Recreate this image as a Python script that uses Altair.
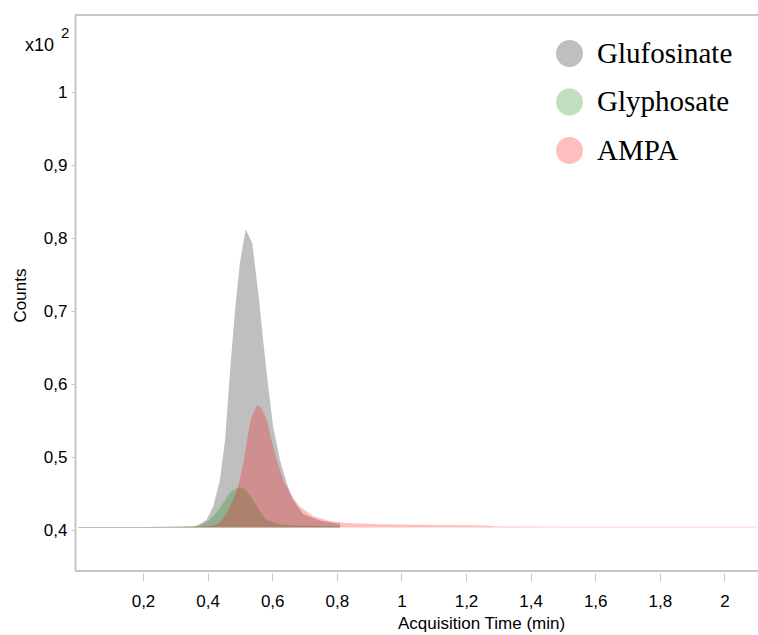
import altair as alt
import pandas as pd

# Chromatogram traces (acquisition time in min, counts in units of 10^2)
glufosinate_t = [0.00, 0.10, 0.20, 0.30, 0.361, 0.376, 0.397, 0.417, 0.438, 0.454, 0.469,
                 0.485, 0.500, 0.518, 0.538, 0.557, 0.572, 0.588, 0.603, 0.624, 0.645,
                 0.665, 0.696, 0.748, 0.800, 0.810]
glufosinate_v = [0.4042, 0.4042, 0.4042, 0.4045, 0.405, 0.408, 0.414, 0.432, 0.468, 0.523, 0.615,
                 0.701, 0.766, 0.812, 0.793, 0.725, 0.660, 0.596, 0.541, 0.496, 0.464,
                 0.441, 0.422, 0.413, 0.409, 0.409]

glyphosate_t = [0.00, 0.10, 0.20, 0.30, 0.361, 0.376, 0.397, 0.417, 0.438, 0.454, 0.469,
                0.485, 0.500, 0.515, 0.531, 0.546, 0.562, 0.577, 0.593, 0.624, 0.670, 0.810]
glyphosate_v = [0.4042, 0.4042, 0.4042, 0.4045, 0.405, 0.407, 0.4105, 0.419, 0.430, 0.441, 0.451,
                0.456, 0.459, 0.456, 0.448, 0.437, 0.426, 0.416, 0.412, 0.4075, 0.406, 0.405]

ampa_t = [0.00, 0.20, 0.38, 0.42, 0.44, 0.46, 0.48, 0.495, 0.511, 0.526, 0.536, 0.554,
          0.567, 0.583, 0.598, 0.614, 0.634, 0.655, 0.686, 0.727, 0.779, 0.831, 0.934,
          1.00, 1.10, 1.20, 1.26, 1.30, 1.50, 1.80, 2.10]
ampa_v = [0.4042, 0.4042, 0.4045, 0.406, 0.411, 0.424, 0.442, 0.460, 0.492, 0.533, 0.555, 0.571,
          0.567, 0.551, 0.523, 0.496, 0.468, 0.450, 0.432, 0.419, 0.4125, 0.4095, 0.408,
          0.4075, 0.407, 0.4065, 0.406, 0.4048, 0.4045, 0.4045, 0.4045]

compounds = ["Glufosinate", "Glyphosate", "AMPA"]
colors = ["black", "green", "red"]

x_ticks = [0.2, 0.4, 0.6, 0.8, 1.0, 1.2, 1.4, 1.6, 1.8, 2.0]
y_ticks = [0.4, 0.5, 0.6, 0.7, 0.8, 0.9, 1.0]
baseline = 0.4035

frames = []
for name, ts, vs in [("Glufosinate", glufosinate_t, glufosinate_v),
                     ("Glyphosate", glyphosate_t, glyphosate_v),
                     ("AMPA", ampa_t, ampa_v)]:
    frames.append(pd.DataFrame({"time": ts, "counts": vs, "compound": name}))
df = pd.concat(frames, ignore_index=True)
one_row = pd.DataFrame({"k": [0]})

W, H = 683, 556
FRAME = "#c6c6c6"
SANS = "Liberation Sans"

comma_label = "replace(format(datum.value, '.1~f'), '.', ',')"

color_enc = alt.Color(
    "compound:N",
    scale=alt.Scale(domain=compounds, range=colors),
    legend=alt.Legend(
        title=None, orient="none", legendX=480, legendY=24,
        symbolType="circle", symbolSize=729, symbolOpacity=0.25,
        symbolStrokeWidth=0, labelFont="Liberation Serif", labelFontSize=29,
        labelColor="black", labelOffset=13, rowPadding=18.5, padding=0,
    ),
)

x_enc = alt.X(
    "time:Q",
    scale=alt.Scale(domain=[-0.0105, 2.104], nice=False, zero=False),
    axis=alt.Axis(
        values=x_ticks, labelExpr=comma_label, domain=False, grid=False,
        offset=2, tickSize=8, tickColor=FRAME, tickWidth=1,
        labelFont=SANS, labelFontSize=17, labelColor="black", labelPadding=12,
        title="Acquisition Time (min)", titleFont=SANS, titleFontSize=17,
        titleFontWeight="normal", titleColor="black",
        titleX=406, titleY=50, titleBaseline="middle",
    ),
)

y_enc = alt.Y(
    "counts:Q",
    scale=alt.Scale(domain=[0.34384, 1.10548], nice=False, zero=False),
    axis=alt.Axis(
        values=y_ticks, labelExpr=comma_label, domain=True, domainColor=FRAME,
        domainWidth=2, grid=False, tickSize=4, tickColor=FRAME, tickWidth=1,
        labelFont=SANS, labelFontSize=17, labelColor="black", labelPadding=4,
        title="Counts", titleFont=SANS, titleFontSize=17, titleFontWeight="normal",
        titleColor="black", titleAngle=-90, titleX=-55, titleY=280,
        titleBaseline="middle", titleAlign="center",
    ),
)

layers = []
for name in compounds:
    layers.append(
        alt.Chart(df)
        .transform_filter(alt.datum.compound == name)
        .mark_area(clip=True, opacity=0.25, interpolate="linear")
        .encode(x=x_enc, y=y_enc, y2=alt.datum(baseline), color=color_enc)
    )

top_rule = alt.Chart(one_row).mark_rule(color=FRAME, strokeWidth=2).encode(
    x=alt.value(0), x2=alt.value(W), y=alt.value(0)
)
bottom_rule = alt.Chart(one_row).mark_rule(color=FRAME, strokeWidth=2).encode(
    x=alt.value(0), x2=alt.value(W), y=alt.value(H)
)

exp_base = alt.Chart(one_row).mark_text(
    text="x10", font=SANS, fontSize=18, color="black", align="left", baseline="middle"
).encode(x=alt.value(-50), y=alt.value(31))
exp_sup = alt.Chart(one_row).mark_text(
    text="2", font=SANS, fontSize=15, color="black", align="left", baseline="middle"
).encode(x=alt.value(-14), y=alt.value(18))

chart = (
    alt.layer(*layers, top_rule, bottom_rule, exp_base, exp_sup)
    .properties(
        width=W, height=H,
        padding={"left": 75, "top": 15, "right": 0, "bottom": 64},
        autosize=alt.AutoSizeParams(type="none"),
    )
    .configure_view(stroke=None)
    .configure(background="white")
)

chart.save("out.html", embed_options={"renderer": "svg", "actions": False})
